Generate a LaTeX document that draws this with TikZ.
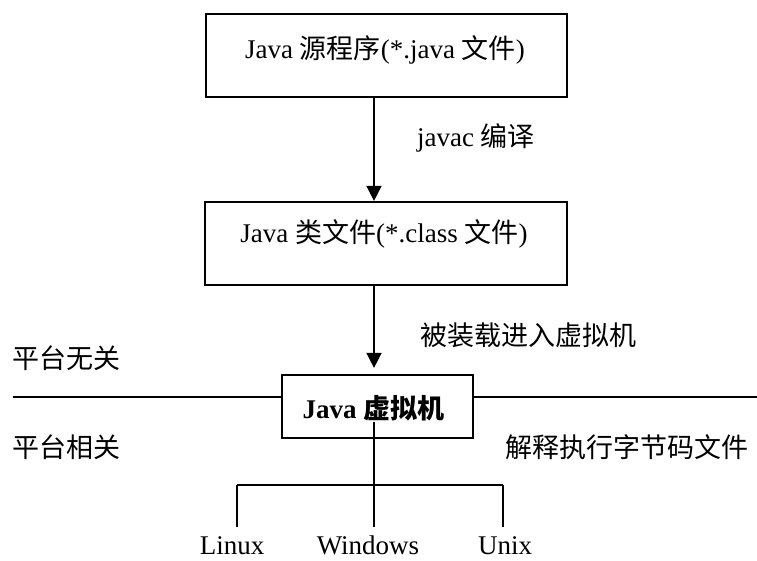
\documentclass[tikz,border=0pt]{standalone}
\usepackage{fontspec}
\setmainfont{Liberation Serif}
\newfontfamily\cjk{Noto Sans CJK SC}
\usetikzlibrary{arrows.meta,calc}
\begin{document}
\begin{tikzpicture}[x=1pt,y=-1pt,
  font=\fontsize{27}{32}\selectfont, inner sep=0pt,
  boxst/.style={draw, line width=1.8pt},
  ln/.style={line width=1.6pt},
  arr/.style={ln, -{Triangle[length=15pt,width=15pt]}},
  lbl/.style={anchor=west}]
\useasboundingbox (0,0) rectangle (757,561);

% boxes
\node (b1) [boxst, minimum width=361pt, minimum height=83pt] at (386.5,55.5) {};
\node (t1) at (385,50) {Java {\cjk 源程序}(*.java {\cjk 文件})};
\node (b2) [boxst, minimum width=362pt, minimum height=83pt] at (386,243.3) {};
\node (t2) at (384,234) {Java {\cjk 类文件}(*.class {\cjk 文件})};
\node (b3) [boxst, minimum width=191pt, minimum height=63pt] at (377.3,406.3) {};
\node (t3) at (373.5,408) {\bfseries Java {\cjk\bfseries 虚拟机}};

% arrows
\draw[arr] ([xshift=-12.5pt]b1.south) -- ([xshift=-12pt]b2.north);
\draw[arr, shorten >=6pt] ([xshift=-12pt]b2.south) -- ([xshift=-3.3pt]b3.north);

% labels
\node (l1) [lbl] at (417,138) {javac {\cjk 编译}};
\node (l2) [lbl] at (420,335) {\cjk 被装载进入虚拟机};
\node (l3) [lbl] at (12,358) {\cjk 平台无关};
\node (l4) [lbl] at (12,447) {\cjk 平台相关};
\node (l5) [lbl] at (505,447) {\cjk 解释执行字节码文件};

% platform line
\coordinate (le) at (13,397);
\coordinate (re) at (757,397);
\draw[ln] (le) -- (le -| b3.west);
\draw[ln] (re) -- (re -| b3.east);

% tree
\coordinate (top) at (374,422);
\coordinate (hub) at (374,485);
\coordinate (hl) at (237,485);
\coordinate (hr) at (503,485);
\node (os1) [anchor=base] at (232,554) {Linux};
\node (os2) [anchor=base] at (368,554) {Windows};
\node (os3) [anchor=base] at (505,554) {Unix};
\draw[ln] (top) -- (hub);
\draw[ln] (hl) -- (hr);
\draw[ln] (hl) -- (hl |- 0,527);
\draw[ln] (hub) -- (hub |- 0,527);
\draw[ln] (hr) -- (hr |- 0,527);
\end{tikzpicture}
\end{document}
